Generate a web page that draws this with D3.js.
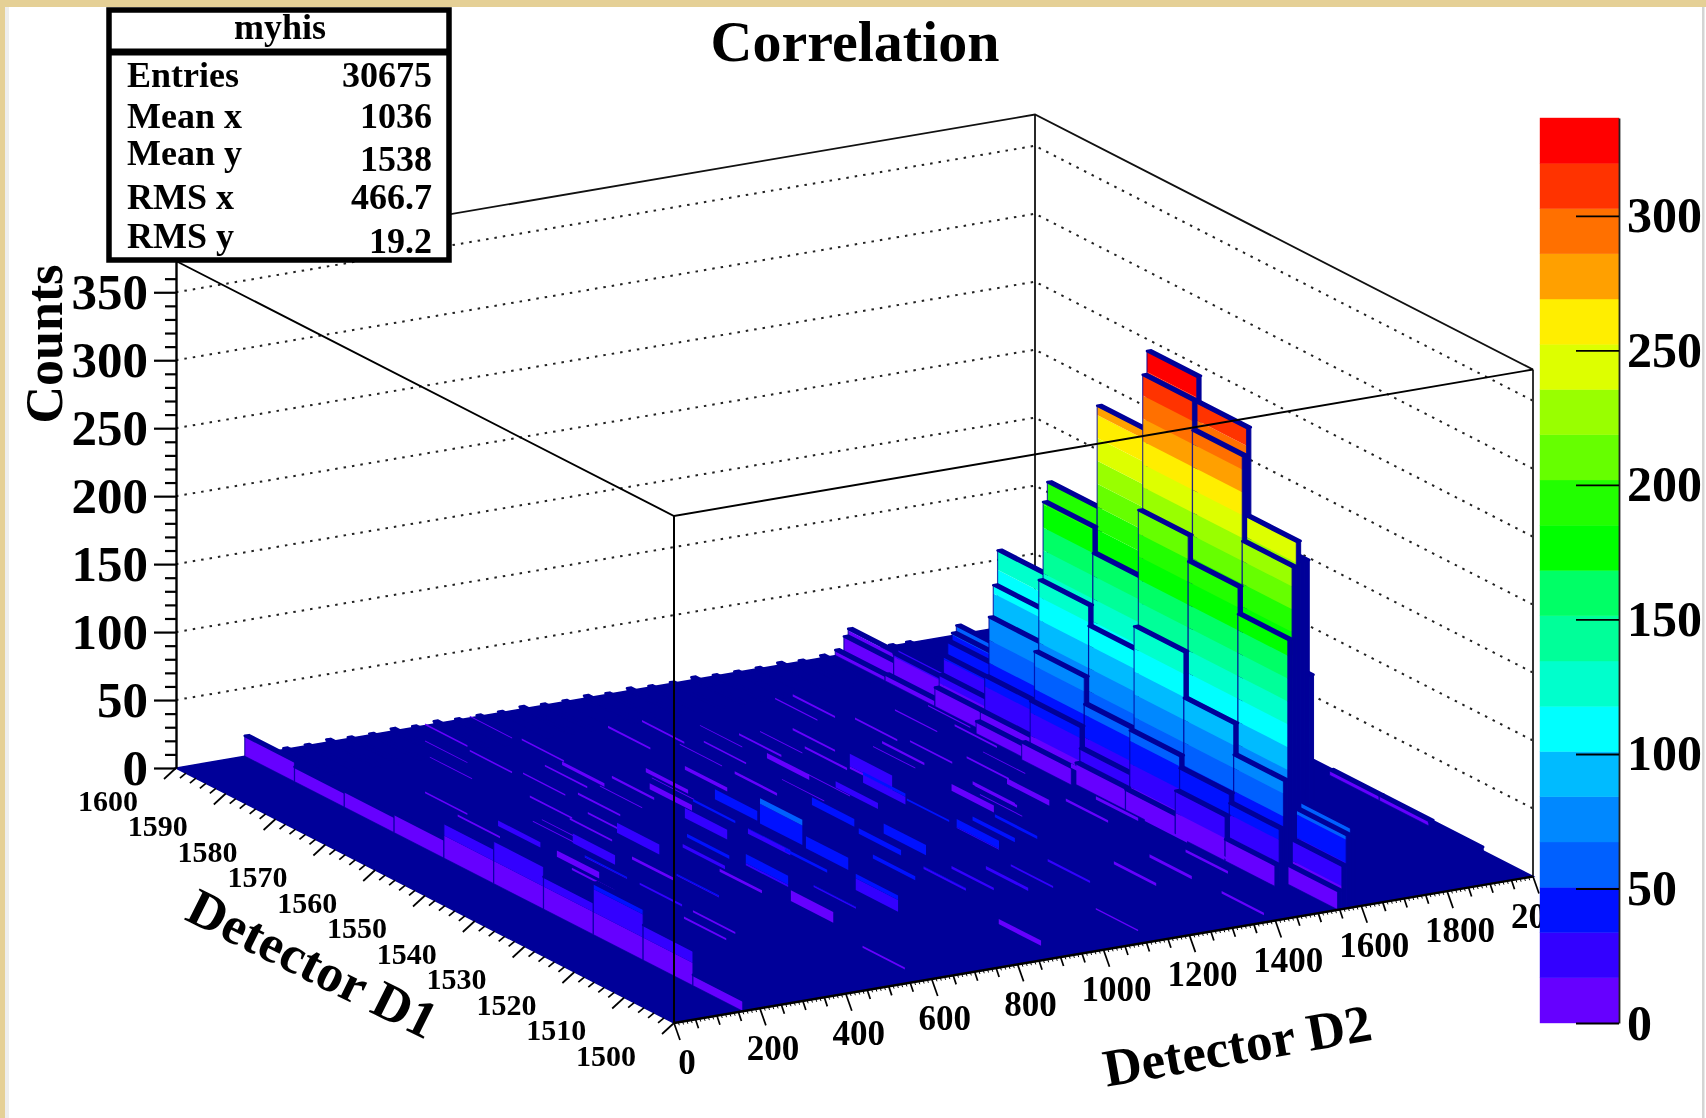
<!DOCTYPE html>
<html>
<head>
<meta charset="utf-8">
<title>Correlation</title>
<script src="https://cdn.jsdelivr.net/npm/d3@7"></script>
<style>
    html, body { margin: 0; padding: 0; background: #fff; overflow: hidden; }
    svg { display: block; filter: blur(0.45px); }
    text { font-family: "Liberation Serif", serif; font-weight: bold; fill: #000; }
</style>
</head>
<body>
<div id="chart"></div>
<script>
// FIGURE DIMENSIONS
const FIGURE = { WIDTH: 1706, HEIGHT: 1118 };

// DATA
const statsRows = [
    ['Entries', '30675'],
    ['Mean x', '1036'],
    ['Mean y', '1538'],
    ['RMS x', '466.7'],
    ['RMS y', '19.2']
];
const countTicks = [0, 50, 100, 150, 200, 250, 300, 350];
const paletteTicks = [0, 50, 100, 150, 200, 250, 300];
const d2TickLabels = [0, 200, 400, 600, 800, 1000, 1200, 1400, 1600, 1800, 2000];
const d1TickLabels = [1500, 1510, 1520, 1530, 1540, 1550, 1560, 1570, 1580, 1590, 1600];
const palette = ['#6600ff', '#3300ff', '#0011ff', '#0060ff', '#0088ff', '#00bbff', '#00ffff',
    '#00ffcc', '#00ff99', '#00ff66', '#00ff00', '#22ff00', '#66ff00', '#99ff00', '#ddff00',
    '#ffee00', '#ffa000', '#ff7000', '#ff3300', '#ff0000'];
const paletteMax = 336.4;
const countMax = 373;

// D1 bins, low edge, 10 wide
const d1Bins = [1590, 1580, 1570, 1560, 1550, 1540, 1530, 1520, 1510, 1500];

// tall rows (low edge of the D2 bin, 10 wide) and their counts per D1 bin
const peakD2 = [1990, 1595, 1585, 1575, 1565, 1555, 1545, 1535, 1525, 1515, 1505, 160];
const peakCounts = [
    [0, 0, 0, 0, 0, 3, 4, 4, 3, 0],
    [0, 0, 0, 0, 0, 0, 0, 0, 151, 0],
    [0, 0, 57, 0, 0, 0, 0, 0, 236, 0],
    [0, 0, 52, 0, 0, 0, 0, 0, 236, 59],
    [18, 22, 46, 132, 201, 276, 335, 316, 251, 54],
    [13, 19, 36, 107, 187, 168, 318, 296, 233, 32],
    [0, 0, 23, 84, 130, 115, 219, 200, 180, 14],
    [4, 5, 14, 41, 78, 58, 134, 100, 77, 0],
    [0, 0, 0, 16, 42, 26, 58, 49, 42, 0],
    [0, 0, 0, 9, 0, 16, 15, 33, 16, 0],
    [0, 0, 0, 0, 13, 0, 0, 0, 0, 0],
    [15, 11, 12, 14, 26, 32, 24, 38, 26, 8]
];

// small bumps along the back edge, all in the last D1 bin
const ridgeD2 = [200, 250, 300, 350, 400, 450, 500, 550, 600, 650, 700, 750, 800, 850,
    900, 950, 1000, 1050, 1100, 1150, 1200, 1250, 1300, 1350, 1400, 1450, 1500, 1620, 1660, 1700];
const ridgeCounts = [1, 1, 1, 2, 1, 1, 2, 1, 2, 1, 1, 1, 2, 1, 1, 2, 1, 2, 1, 1, 2, 1, 1, 1, 2, 1, 2, 1, 1, 1];

// the coloured slivers on the floor: D2, D1 bin, top count, count where it disappears
const streakD2 = [580, 568, 689, 576, 627, 667, 890, 969, 746, 837, 667, 755, 605, 675, 476, 453,
    588, 495, 447, 307, 344, 482, 342, 256, 286, 308, 348, 484, 494, 624, 570, 354,
    268, 953, 1079, 997, 1028, 664, 636, 606, 655, 515, 620, 392, 371, 655, 557, 695,
    778, 836, 785, 956, 1020, 1105, 1006, 1043, 1095, 1006, 813, 878, 958, 1016, 1102, 1256,
    1339, 1423, 872, 1098, 555, 1376, 1446, 1444, 1275, 1504, 1355, 1226, 1280, 1204, 1116, 1296,
    1361, 1377, 1320, 1279, 1349, 1442, 1519, 1465, 1491, 1391];
const streakBin = [1590, 1580, 1580, 1570, 1570, 1570, 1580, 1580, 1560, 1560, 1560, 1560, 1540, 1540, 1560, 1550,
    1560, 1550, 1540, 1540, 1540, 1540, 1540, 1530, 1550, 1560, 1570, 1530, 1530, 1540, 1530, 1520,
    1520, 1560, 1570, 1570, 1560, 1530, 1530, 1520, 1520, 1520, 1520, 1520, 1520, 1510, 1510, 1510,
    1520, 1520, 1530, 1540, 1540, 1550, 1520, 1520, 1520, 1530, 1510, 1510, 1510, 1510, 1510, 1510,
    1510, 1510, 1500, 1500, 1500, 1530, 1530, 1520, 1540, 1540, 1540, 1540, 1540, 1570, 1560, 1560,
    1560, 1550, 1580, 1580, 1570, 1570, 1570, 1560, 1510, 1500];
const streakHigh = [1.5, 1.5, 3.3, 3.2, 6.2, 6.3, 1.8, 1.8, 16, 12.7, 14.6, 4.4, 31.8, 41.8, 10.4, 14,
    6.5, 16, 29.4, 16.6, 27, 2.8, 2, 34.5, 21, 5.5, 1.5, 30.6, 37.5, 37.4, 7.8, 34.5,
    32.5, 2.5, 5, 3.8, 12, 54.6, 34, 39.7, 45.9, 40.3, 8, 5.5, 2, 36.9, 34, 49,
    45, 45.5, 48.7, 32.5, 36, 26, 39.6, 39.5, 38.3, 36, 34, 30.7, 26.3, 24.5, 23.7, 13.8,
    14.4, 13.5, 10.8, 6.7, 8.2, 16, 13.9, 16.4, 15.3, 16.3, 13.2, 16, 13.6, 2.1, 12.2, 6.3,
    3.4, 9.5, 1.8, 1.5, 2, 3, 2, 9.5, 8.4, 3.3];
const streakLow = [0.2, 0.2, 2, 2, 4.8, 3.8, 0.3, 0.3, 13, 9.8, 12.8, 0, 24.5, 34.5, 9, 12.5,
    5, 14.5, 22, 12, 20, 0.6, 0.3, 33, 17, 4, 0.2, 28, 35, 35.5, 5.6, 33,
    31, 0.5, 3.5, 2.5, 8, 36, 30, 37.5, 37, 32, 0, 4, 0.5, 25, 32.5, 46,
    41, 38, 43, 28, 28, 15, 33, 36.5, 36, 34.5, 32, 28.7, 24, 23, 22, 11.6,
    12, 11.5, 7, 5.6, 6.7, 14, 11.5, 14.5, 13, 13, 9, 11, 11.5, 0.5, 10.5, 4.5,
    2, 8, 0.3, 0.5, 0.5, 2, 1, 8, 6.8, 1.5];

// the faint hairlines between the slivers
const faintD2 = [464, 475, 684, 367, 388, 639, 760, 941, 1128, 988, 1275, 1415, 947, 1007, 1292];
const faintBin = [1580, 1580, 1590, 1550, 1550, 1560, 1560, 1570, 1570, 1570, 1560, 1550, 1550, 1550, 1540];
const faintCounts = [14, 1.5, 1.5, 16.5, 16.5, 8.9, 8.4, 4.6, 4, 16, 3.8, 11, 16, 16.5, 5];

const DARK = '#000099';

// 3D projection: origin is the front corner of the box
const ORIGIN = { X: 674, Y: 1023 };
const d2X = d3.scaleLinear().domain([0, 2000]).range([0, 859]);
const d2Y = d3.scaleLinear().domain([0, 2000]).range([0, -146.5]);
const d1X = d3.scaleLinear().domain([1500, 1600]).range([0, -498]);
const d1Y = d3.scaleLinear().domain([1500, 1600]).range([0, -255]);
const zY = d3.scaleLinear().domain([0, countMax]).range([0, -507]);

function project(d2, d1, z) {
    return [
        ORIGIN.X + d2X(d2) + d1X(d1),
        ORIGIN.Y + d2Y(d2) + d1Y(d1) + zY(z)
    ];
}

const line = d3.line();
const poly = pts => line(pts) + 'Z';
const bandSize = paletteMax / palette.length;

const canvas = d3.select('#chart')
    .append('svg')
        .attr('width', FIGURE.WIDTH)
        .attr('height', FIGURE.HEIGHT);

// picture frame
canvas.append('rect').attr('width', FIGURE.WIDTH).attr('height', FIGURE.HEIGHT).attr('fill', '#fff');
canvas.append('rect').attr('width', FIGURE.WIDTH).attr('height', 7).attr('fill', '#e5d096');
canvas.append('rect').attr('x', 5).attr('y', 7).attr('width', 4).attr('height', FIGURE.HEIGHT).attr('fill', '#eeeeee');
canvas.append('rect').attr('width', 5).attr('height', FIGURE.HEIGHT).attr('fill', '#e5d096');
canvas.append('rect').attr('x', 1702).attr('y', 7).attr('width', 2.5).attr('height', FIGURE.HEIGHT).attr('fill', '#d4d4d4');

// back walls
const walls = canvas.append('g').attr('class', 'walls');

walls.selectAll('polyline.grid')
    .data(countTicks.slice(1))
    .enter()
    .append('polyline')
        .attr('class', 'grid')
        .attr('points', d => [project(0, 1600, d), project(2000, 1600, d), project(2000, 1500, d)].join(' '))
        .attr('fill', 'none')
        .attr('stroke', '#222')
        .attr('stroke-width', 2)
        .attr('stroke-dasharray', '2.5 6');

walls.append('polyline')
    .attr('points', [project(0, 1600, countMax), project(2000, 1600, countMax), project(2000, 1500, countMax)].join(' '))
    .attr('fill', 'none')
    .attr('stroke', '#111')
    .attr('stroke-width', 1.8);

walls.append('line')
    .attr('x1', project(2000, 1600, 0)[0]).attr('y1', project(2000, 1600, 0)[1])
    .attr('x2', project(2000, 1600, countMax)[0]).attr('y2', project(2000, 1600, countMax)[1])
    .attr('stroke', '#111')
    .attr('stroke-width', 1.8);

walls.append('line')
    .attr('x1', project(2000, 1500, 0)[0]).attr('y1', project(2000, 1500, 0)[1])
    .attr('x2', project(2000, 1500, countMax)[0]).attr('y2', project(2000, 1500, countMax)[1])
    .attr('stroke', '#333')
    .attr('stroke-width', 2);

// floor
const lego = canvas.append('g').attr('class', 'lego');

lego.append('path')
    .attr('d', poly([project(0, 1500, 0), project(2000, 1500, 0), project(2000, 1600, 0), project(0, 1600, 0)]))
    .attr('fill', DARK)
    .attr('stroke', DARK)
    .attr('stroke-width', 1.5);

// everything on the floor, painted back to front
const items = [];
peakD2.forEach((d2, r) => {
    peakCounts[r].forEach((count, c) => {
        if (count > 0) items.push({ type: 'bar', d2: d2, d1: d1Bins[c], high: count, low: 0 });
    });
});
ridgeD2.forEach((d2, i) => {
    items.push({ type: 'bar', d2: d2, d1: d1Bins[0], high: ridgeCounts[i], low: 0 });
});
streakD2.forEach((d2, i) => {
    items.push({ type: 'streak', d2: d2, d1: streakBin[i], high: streakHigh[i], low: streakLow[i] });
});
faintD2.forEach((d2, i) => {
    items.push({ type: 'streak', d2: d2, d1: faintBin[i], high: faintCounts[i], low: faintCounts[i] - 0.7 });
});
items.sort((a, b) => (b.d2 - a.d2) || (b.d1 - a.d1));

// cut a front face into the palette bands
function bands(d2, d1Left, d1Right, low, high) {
    const out = [];
    palette.forEach((color, b) => {
        const from = Math.max(b * bandSize, low);
        const to = Math.min((b + 1) * bandSize, high);
        if (to > from) {
            out.push({
                color: color,
                d: poly([project(d2, d1Left, from), project(d2, d1Right, from), project(d2, d1Right, to), project(d2, d1Left, to)])
            });
        }
    });
    return out;
}

items.forEach(function(d) {
    const g = lego.append('g');
    const left = d.d1 + 10;
    if (d.type === 'streak') {
        g.selectAll('path')
            .data(bands(d.d2, left, d.d1 + 1.5, d.low, d.high))
            .enter()
            .append('path')
                .attr('d', b => b.d)
                .attr('fill', b => b.color);
        return;
    }
    // right side and top are always the dark colour
    g.append('path')
        .attr('d', poly([project(d.d2, d.d1, 0), project(d.d2 + 10, d.d1, 0), project(d.d2 + 10, d.d1, d.high), project(d.d2, d.d1, d.high)]))
        .attr('fill', DARK)
        .attr('stroke', DARK);
    if (d.high > 3.5) {
        g.selectAll('path.band')
            .data(bands(d.d2, left, d.d1, 0, d.high))
            .enter()
            .append('path')
                .attr('class', 'band')
                .attr('d', b => b.d)
                .attr('fill', b => b.color);
    }
    g.append('path')
        .attr('d', poly([project(d.d2, left, 0), project(d.d2, d.d1, 0), project(d.d2, d.d1, d.high), project(d.d2, left, d.high)]))
        .attr('fill', d.high > 3.5 ? 'none' : DARK)
        .attr('stroke', DARK)
        .attr('stroke-opacity', 0.75)
        .attr('stroke-width', 1.2);
    g.append('path')
        .attr('d', poly([project(d.d2, left, d.high), project(d.d2, d.d1, d.high), project(d.d2 + 10, d.d1, d.high), project(d.d2 + 10, left, d.high)]))
        .attr('fill', DARK)
        .attr('stroke', DARK)
        .attr('stroke-width', 2.6)
        .attr('stroke-linejoin', 'round');
});

// front edges of the box go over the bars
const front = canvas.append('g').attr('class', 'front');
front.append('polyline')
    .attr('points', [project(0, 1600, countMax), project(0, 1500, countMax), project(2000, 1500, countMax)].join(' '))
    .attr('fill', 'none')
    .attr('stroke', '#000')
    .attr('stroke-width', 1.9);
front.append('line')
    .attr('x1', project(0, 1500, 0)[0]).attr('y1', project(0, 1500, 0)[1])
    .attr('x2', project(0, 1500, countMax)[0]).attr('y2', project(0, 1500, countMax)[1])
    .attr('stroke', '#000')
    .attr('stroke-width', 2);

// Counts axis
const yCounts = d3.scaleLinear()
    .domain([0, countMax])
    .range([project(0, 1600, 0)[1], project(0, 1600, countMax)[1]]);
const yAxis = d3.axisLeft(yCounts)
    .tickValues(d3.range(0, 370, 10))
    .tickSize(22)
    .tickSizeOuter(0)
    .tickPadding(6)
    .tickFormat(d => countTicks.includes(d) ? d : '');
const yAxisG = canvas.append('g')
    .attr('class', 'yAxis')
    .attr('transform', `translate(${project(0, 1600, 0)[0]}, 0)`)
    .call(yAxis);
yAxisG.select('.domain').attr('stroke', '#000').attr('stroke-width', 2.4);
yAxisG.selectAll('.tick line')
    .attr('x2', d => d % 50 === 0 ? -22 : -11)
    .attr('stroke', '#000')
    .attr('stroke-width', 2.2);
yAxisG.selectAll('.tick text')
    .filter(d => !countTicks.includes(d))
    .remove();
yAxisG.selectAll('.tick text')
    .style('font-family', '"Liberation Serif", serif')
    .style('font-size', '51px');

// D2 axis along the front right edge
const axes = canvas.append('g').attr('class', 'axes');
axes.append('line')
    .attr('x1', project(0, 1500, 0)[0]).attr('y1', project(0, 1500, 0)[1])
    .attr('x2', project(2000, 1500, 0)[0]).attr('y2', project(2000, 1500, 0)[1])
    .attr('stroke', '#000')
    .attr('stroke-width', 2.4);

axes.selectAll('line.d2tick')
    .data(d3.range(0, 2001, 10))
    .enter()
    .append('line')
        .attr('class', 'd2tick')
        .attr('x1', d => project(d, 1500, 0)[0])
        .attr('y1', d => project(d, 1500, 0)[1])
        .attr('x2', d => project(d, 1500, 0)[0] + (d % 200 === 0 ? 6 : d % 50 === 0 ? 3 : 1))
        .attr('y2', d => project(d, 1500, 0)[1] + (d % 200 === 0 ? 17 : d % 50 === 0 ? 9 : 3))
        .attr('stroke', '#000')
        .attr('stroke-width', d => d % 50 === 0 ? 1.7 : 1);

axes.selectAll('line.d1tick')
    .data(d3.range(1500, 1601, 2))
    .enter()
    .append('line')
        .attr('class', 'd1tick')
        .attr('x1', d => project(0, d, 0)[0])
        .attr('y1', d => project(0, d, 0)[1])
        .attr('x2', d => project(0, d, 0)[0] - (d % 10 === 0 ? 12 : 6))
        .attr('y2', d => project(0, d, 0)[1] + (d % 10 === 0 ? 11 : 5))
        .attr('stroke', '#000')
        .attr('stroke-width', 1.7);

axes.selectAll('text.d2label')
    .data(d2TickLabels)
    .enter()
    .append('text')
        .attr('class', 'd2label')
        .attr('x', d => project(d, 1500, 0)[0] + 13)
        .attr('y', d => project(d, 1500, 0)[1] + 39)
        .attr('dy', '0.35em')
        .attr('text-anchor', 'middle')
        .style('font-size', '35px')
        .text(d => d);

axes.selectAll('text.d1label')
    .data(d1TickLabels)
    .enter()
    .append('text')
        .attr('class', 'd1label')
        .attr('x', d => project(0, d, 0)[0] - 68)
        .attr('y', d => project(0, d, 0)[1] + 32)
        .attr('dy', '0.35em')
        .attr('text-anchor', 'middle')
        .style('font-size', '30px')
        .text(d => d);

// titles
canvas.append('text')
    .attr('x', 855).attr('y', 61)
    .attr('text-anchor', 'middle')
    .style('font-size', '58px')
    .text('Correlation');

canvas.append('text')
    .attr('transform', 'translate(62, 344) rotate(-90)')
    .attr('text-anchor', 'middle')
    .style('font-size', '52px')
    .text('Counts');

canvas.append('text')
    .attr('transform', 'translate(313, 963) rotate(26.5)')
    .attr('dy', '0.35em')
    .attr('text-anchor', 'middle')
    .style('font-size', '53px')
    .text('Detector D1');

canvas.append('text')
    .attr('transform', 'translate(1237, 1045) rotate(-10)')
    .attr('dy', '0.35em')
    .attr('text-anchor', 'middle')
    .style('font-size', '53px')
    .text('Detector D2');

// palette
const yPalette = d3.scaleLinear().domain([0, paletteMax]).range([1023, 118]);
const paletteG = canvas.append('g').attr('class', 'palette');
paletteG.selectAll('rect')
    .data(palette)
    .enter()
    .append('rect')
        .attr('x', 1540)
        .attr('width', 79)
        .attr('y', (d, i) => yPalette((i + 1) * bandSize))
        .attr('height', (d, i) => yPalette(i * bandSize) - yPalette((i + 1) * bandSize))
        .attr('fill', d => d)
        .attr('stroke', d => d)
        .attr('stroke-width', 0.4);

const paletteAxis = d3.axisRight(yPalette)
    .tickValues(paletteTicks)
    .tickSize(-43)
    .tickSizeOuter(0)
    .tickPadding(8);
const paletteAxisG = canvas.append('g')
    .attr('transform', 'translate(1619, 0)')
    .call(paletteAxis);
paletteAxisG.select('.domain').attr('stroke', '#222').attr('stroke-width', 1.8);
paletteAxisG.selectAll('.tick line').attr('stroke', '#000').attr('stroke-width', 1.8);
paletteAxisG.selectAll('.tick text')
    .style('font-family', '"Liberation Serif", serif')
    .style('font-size', '50px');

// stats box
const stats = canvas.append('g').attr('class', 'stats');
stats.append('rect')
    .attr('x', 109).attr('y', 10)
    .attr('width', 340).attr('height', 250)
    .attr('fill', '#fff')
    .attr('stroke', '#000')
    .attr('stroke-width', 5.5);
stats.append('line')
    .attr('x1', 109).attr('x2', 449)
    .attr('y1', 52).attr('y2', 52)
    .attr('stroke', '#000')
    .attr('stroke-width', 7);
stats.append('text')
    .attr('x', 280).attr('y', 39)
    .attr('text-anchor', 'middle')
    .style('font-size', '36px')
    .text('myhis');

const statsLabelY = [87, 128, 165, 209, 248];
const statsValueY = [87, 128, 171, 209, 253];
stats.selectAll('text.statName')
    .data(statsRows)
    .enter()
    .append('text')
        .attr('class', 'statName')
        .attr('x', 127)
        .attr('y', (d, i) => statsLabelY[i])
        .style('font-size', '36px')
        .text(d => d[0]);
stats.selectAll('text.statValue')
    .data(statsRows)
    .enter()
    .append('text')
        .attr('class', 'statValue')
        .attr('x', 432)
        .attr('y', (d, i) => statsValueY[i])
        .attr('text-anchor', 'end')
        .style('font-size', '36px')
        .text(d => d[1]);
</script>
</body>
</html>
